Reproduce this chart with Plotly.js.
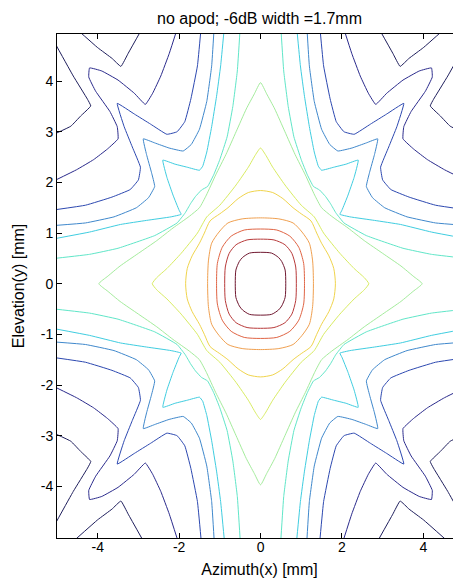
<!DOCTYPE html>
<html><head><meta charset="utf-8">
<script src="https://cdn.plot.ly/plotly-3.0.1.min.js"></script>
<style>html,body{margin:0;padding:0;overflow:hidden;background:#fff;width:453px;height:587px}#chart{width:475px;height:587px}</style>
</head><body><div id="chart"></div>
<script>
// contour levels, outermost (1) to innermost (13); coordinates in mm
const level1_x = [-4.55,-4.0,-3.65,-3.43,-3.25,-2.9,null,-5.05,-4.6,-4.25,-4.17,-4.42,-4.66,-5.05,null,
  4.55,4.0,3.65,3.43,3.25,2.9,null,5.05,4.6,4.25,4.17,4.42,4.66,5.05,null,
  -4.55,-4.0,-3.65,-3.43,-3.25,-2.9,null,-5.05,-4.6,-4.25,-4.17,-4.42,-4.66,-5.05,null,
  4.55,4.0,3.65,3.43,3.25,2.9,null,5.05,4.6,4.25,4.17,4.42,4.66,5.05];
const level1_y = [5.05,4.66,4.45,4.29,4.55,5.05,null,4.75,4.1,3.64,3.51,3.31,3.11,2.96,null,
  5.05,4.66,4.45,4.29,4.55,5.05,null,4.75,4.1,3.64,3.51,3.31,3.11,2.96,null,
  -5.05,-4.66,-4.45,-4.29,-4.55,-5.05,null,-4.75,-4.1,-3.64,-3.51,-3.31,-3.11,-2.96,null,
  -5.05,-4.66,-4.45,-4.29,-4.55,-5.05,null,-4.75,-4.1,-3.64,-3.51,-3.31,-3.11,-2.96];

const level2_x = [-2.04,-2.24,-2.45,-2.65,-2.83,-3.1,-3.5,-3.9,-4.2,-4.22,-4.05,-3.7,-3.52,-3.5,-3.76,-4.1,-4.52,-5.05,null,
  2.04,2.24,2.45,2.65,2.83,3.1,3.5,3.9,4.2,4.22,4.05,3.7,3.52,3.5,3.76,4.1,4.52,5.05,null,
  -2.04,-2.24,-2.45,-2.65,-2.83,-3.1,-3.5,-3.9,-4.2,-4.22,-4.05,-3.7,-3.52,-3.5,-3.76,-4.1,-4.52,-5.05,null,
  2.04,2.24,2.45,2.65,2.83,3.1,3.5,3.9,4.2,4.22,4.05,3.7,3.52,3.5,3.76,4.1,4.52,5.05];
const level2_y = [5.05,4.55,4.1,3.76,3.54,3.76,4.02,4.2,4.26,4.08,3.8,3.4,3.1,2.86,2.66,2.45,2.25,2.04,null,
  5.05,4.55,4.1,3.76,3.54,3.76,4.02,4.2,4.26,4.08,3.8,3.4,3.1,2.86,2.66,2.45,2.25,2.04,null,
  -5.05,-4.55,-4.1,-3.76,-3.54,-3.76,-4.02,-4.2,-4.26,-4.08,-3.8,-3.4,-3.1,-2.86,-2.66,-2.45,-2.25,-2.04,null,
  -5.05,-4.55,-4.1,-3.76,-3.54,-3.76,-4.02,-4.2,-4.26,-4.08,-3.8,-3.4,-3.1,-2.86,-2.66,-2.45,-2.25,-2.04];

const level3_x = [-1.46,-1.55,-1.71,-1.86,-2.05,-2.3,-2.7,-3.1,-3.52,-3.35,-3.15,-2.95,-3.0,-3.2,-3.65,-4.3,-5.05,null,
  1.46,1.55,1.71,1.86,2.05,2.3,2.7,3.1,3.52,3.35,3.15,2.95,3.0,3.2,3.65,4.3,5.05,null,
  -1.46,-1.55,-1.71,-1.86,-2.05,-2.3,-2.7,-3.1,-3.52,-3.35,-3.15,-2.95,-3.0,-3.2,-3.65,-4.3,-5.05,null,
  1.46,1.55,1.71,1.86,2.05,2.3,2.7,3.1,3.52,3.35,3.15,2.95,3.0,3.2,3.65,4.3,5.05];
const level3_y = [5.05,4.3,3.65,3.2,3.0,2.95,3.15,3.35,3.56,3.1,2.7,2.3,2.05,1.86,1.71,1.55,1.46,null,
  5.05,4.3,3.65,3.2,3.0,2.95,3.15,3.35,3.56,3.1,2.7,2.3,2.05,1.86,1.71,1.55,1.46,null,
  -5.05,-4.3,-3.65,-3.2,-3.0,-2.95,-3.15,-3.35,-3.56,-3.1,-2.7,-2.3,-2.05,-1.86,-1.71,-1.55,-1.46,null,
  -5.05,-4.3,-3.65,-3.2,-3.0,-2.95,-3.15,-3.35,-3.56,-3.1,-2.7,-2.3,-2.05,-1.86,-1.71,-1.55,-1.46];

const level4_x = [-1.14,-1.2,-1.32,-1.5,-1.7,-1.9,-2.25,-2.6,-2.88,-2.8,-2.68,-2.6,-2.75,-3.05,-3.6,-4.3,-5.05,null,
  1.14,1.2,1.32,1.5,1.7,1.9,2.25,2.6,2.88,2.8,2.68,2.6,2.75,3.05,3.6,4.3,5.05,null,
  -1.14,-1.2,-1.32,-1.5,-1.7,-1.9,-2.25,-2.6,-2.88,-2.8,-2.68,-2.6,-2.75,-3.05,-3.6,-4.3,-5.05,null,
  1.14,1.2,1.32,1.5,1.7,1.9,2.25,2.6,2.88,2.8,2.68,2.6,2.75,3.05,3.6,4.3,5.05];
const level4_y = [5.05,4.3,3.6,3.05,2.75,2.62,2.68,2.78,2.86,2.55,2.2,1.92,1.7,1.5,1.32,1.2,1.15,null,
  5.05,4.3,3.6,3.05,2.75,2.62,2.68,2.78,2.86,2.55,2.2,1.92,1.7,1.5,1.32,1.2,1.15,null,
  -5.05,-4.3,-3.6,-3.05,-2.75,-2.62,-2.68,-2.78,-2.86,-2.55,-2.2,-1.92,-1.7,-1.5,-1.32,-1.2,-1.15,null,
  -5.05,-4.3,-3.6,-3.05,-2.75,-2.62,-2.68,-2.78,-2.86,-2.55,-2.2,-1.92,-1.7,-1.5,-1.32,-1.2,-1.15];

const level5_x = [-0.89,-0.98,-1.08,-1.2,-1.32,-1.42,-1.5,-1.8,-2.1,-2.4,-2.3,-2.15,-2.0,-1.95,-2.2,-2.8,-3.44,-4.2,-5.05,null,
  0.89,0.98,1.08,1.2,1.32,1.42,1.5,1.8,2.1,2.4,2.3,2.15,2.0,1.95,2.2,2.8,3.44,4.2,5.05,null,
  -0.89,-0.98,-1.08,-1.2,-1.32,-1.42,-1.5,-1.8,-2.1,-2.4,-2.3,-2.15,-2.0,-1.95,-2.2,-2.8,-3.44,-4.2,-5.05,null,
  0.89,0.98,1.08,1.2,1.32,1.42,1.5,1.8,2.1,2.4,2.3,2.15,2.0,1.95,2.2,2.8,3.44,4.2,5.05];
const level5_y = [5.05,4.3,3.7,3.1,2.6,2.32,2.24,2.3,2.36,2.44,2.1,1.75,1.45,1.37,1.32,1.25,1.17,1.02,0.89,null,
  5.05,4.3,3.7,3.1,2.6,2.32,2.24,2.3,2.36,2.44,2.1,1.75,1.45,1.37,1.32,1.25,1.17,1.02,0.89,null,
  -5.05,-4.3,-3.7,-3.1,-2.6,-2.32,-2.24,-2.3,-2.36,-2.44,-2.1,-1.75,-1.45,-1.37,-1.32,-1.25,-1.17,-1.02,-0.89,null,
  -5.05,-4.3,-3.7,-3.1,-2.6,-2.32,-2.24,-2.3,-2.36,-2.44,-2.1,-1.75,-1.45,-1.37,-1.32,-1.25,-1.17,-1.02,-0.89];

const level6_x = [-0.5,-0.57,-0.68,-0.82,-1.0,-1.15,-1.3,-1.45,-1.6,-1.72,-1.85,-2.05,-2.6,-3.5,-4.2,-5.05,null,
  0.5,0.57,0.68,0.82,1.0,1.15,1.3,1.45,1.6,1.72,1.85,2.05,2.6,3.5,4.2,5.05,null,
  -0.5,-0.57,-0.68,-0.82,-1.0,-1.15,-1.3,-1.45,-1.6,-1.72,-1.85,-2.05,-2.6,-3.5,-4.2,-5.05,null,
  0.5,0.57,0.68,0.82,1.0,1.15,1.3,1.45,1.6,1.72,1.85,2.05,2.6,3.5,4.2,5.05];
const level6_y = [5.05,4.2,3.5,2.9,2.45,2.15,1.92,1.85,1.72,1.58,1.4,1.2,0.95,0.7,0.58,0.5,null,
  5.05,4.2,3.5,2.9,2.45,2.15,1.92,1.85,1.72,1.58,1.4,1.2,0.95,0.7,0.58,0.5,null,
  -5.05,-4.2,-3.5,-2.9,-2.45,-2.15,-1.92,-1.85,-1.72,-1.58,-1.4,-1.2,-0.95,-0.7,-0.58,-0.5,null,
  -5.05,-4.2,-3.5,-2.9,-2.45,-2.15,-1.92,-1.85,-1.72,-1.58,-1.4,-1.2,-0.95,-0.7,-0.58,-0.5];

const level7_x = [0,0.15,0.35,0.6,0.85,1.1,1.33,1.5,1.75,2.15,2.55,3.0,3.45,3.75,3.97,3.75,3.45,3.0,2.55,2.15,1.75,1.5,1.33,1.1,0.85,0.6,0.35,0.15,0,
  -0.15,-0.35,-0.6,-0.85,-1.1,-1.33,-1.5,-1.75,-2.15,-2.55,-3.0,-3.45,-3.75,-3.97,-3.75,-3.45,-3.0,-2.55,-2.15,-1.75,-1.5,-1.33,-1.1,-0.85,-0.6,-0.35,-0.15,0];
const level7_y = [3.97,3.75,3.45,3.0,2.55,2.15,1.75,1.5,1.33,1.1,0.85,0.6,0.35,0.15,0,-0.15,-0.35,-0.6,-0.85,-1.1,-1.33,-1.5,-1.75,-2.15,-2.55,-3.0,-3.45,-3.75,-3.97,
  -3.75,-3.45,-3.0,-2.55,-2.15,-1.75,-1.5,-1.33,-1.1,-0.85,-0.6,-0.35,-0.15,0,0.15,0.35,0.6,0.85,1.1,1.33,1.5,1.75,2.15,2.55,3.0,3.45,3.75,3.97];

const level8_x = [0,0.12,0.3,0.6,1.0,1.32,1.55,1.95,2.3,2.55,2.66,2.55,2.3,1.95,1.55,1.32,1.0,0.6,0.3,0.12,0,
  -0.12,-0.3,-0.6,-1.0,-1.32,-1.55,-1.95,-2.3,-2.55,-2.66,-2.55,-2.3,-1.95,-1.55,-1.32,-1.0,-0.6,-0.3,-0.12,0];
const level8_y = [2.68,2.55,2.3,1.95,1.55,1.32,1.0,0.6,0.3,0.12,0,-0.12,-0.3,-0.6,-1.0,-1.32,-1.55,-1.95,-2.3,-2.55,-2.68,
  -2.55,-2.3,-1.95,-1.55,-1.32,-1.0,-0.6,-0.3,-0.12,0,0.12,0.3,0.6,1.0,1.32,1.55,1.95,2.3,2.55,2.68];

const level9_x = [0,0.3,0.55,0.8,1.0,1.24,1.38,1.5,1.68,1.8,1.84,1.8,1.68,1.5,1.38,1.24,1.0,0.8,0.55,0.3,0,
  -0.3,-0.55,-0.8,-1.0,-1.24,-1.38,-1.5,-1.68,-1.8,-1.84,-1.8,-1.68,-1.5,-1.38,-1.24,-1.0,-0.8,-0.55,-0.3,0];
const level9_y = [1.84,1.8,1.68,1.5,1.38,1.24,1.0,0.8,0.55,0.3,0,-0.3,-0.55,-0.8,-1.0,-1.24,-1.38,-1.5,-1.68,-1.8,-1.84,
  -1.8,-1.68,-1.5,-1.38,-1.24,-1.0,-0.8,-0.55,-0.3,0,0.3,0.55,0.8,1.0,1.24,1.38,1.5,1.68,1.8,1.84];

const level10_x = [0,0.45,0.8,1.02,1.2,1.28,1.3,1.28,1.2,1.02,0.8,0.45,0,-0.45,-0.8,-1.02,-1.2,-1.28,-1.3,-1.28,-1.2,-1.02,-0.8,-0.45,0];
const level10_y = [1.3,1.28,1.2,1.02,0.8,0.45,0,-0.45,-0.8,-1.02,-1.2,-1.28,-1.3,-1.28,-1.2,-1.02,-0.8,-0.45,0,0.45,0.8,1.02,1.2,1.28,1.3];

const level11_x = [0,0.4,0.72,0.94,1.06,1.08,1.06,0.94,0.72,0.4,0,-0.4,-0.72,-0.94,-1.06,-1.08,-1.06,-0.94,-0.72,-0.4,0];
const level11_y = [1.08,1.06,0.94,0.72,0.4,0,-0.4,-0.72,-0.94,-1.06,-1.08,-1.06,-0.94,-0.72,-0.4,0,0.4,0.72,0.94,1.06,1.08];

const level12_x = [0,0.33,0.6,0.77,0.865,0.88,0.865,0.77,0.6,0.33,0,-0.33,-0.6,-0.77,-0.865,-0.88,-0.865,-0.77,-0.6,-0.33,0];
const level12_y = [0.88,0.865,0.77,0.6,0.33,0,-0.33,-0.6,-0.77,-0.865,-0.88,-0.865,-0.77,-0.6,-0.33,0,0.33,0.6,0.77,0.865,0.88];

const level13_x = [0,0.27,0.44,0.52,0.605,0.62,0.605,0.52,0.44,0.27,0,-0.27,-0.44,-0.52,-0.605,-0.62,-0.605,-0.52,-0.44,-0.27,0];
const level13_y = [0.62,0.605,0.52,0.44,0.27,0,-0.27,-0.44,-0.52,-0.605,-0.62,-0.605,-0.52,-0.44,-0.27,0,0.27,0.44,0.52,0.605,0.62];

const levelColors = ['#1e1e5c','#2a2a8c','#2c48b0','#3f88cc','#3fcde0','#60e6c8','#a4ec9c','#d8ec60','#f0d44c','#f0a050','#e06444','#b83a3a','#701830'];
const xTicks = [-4,-2,0,2,4];
const yTicks = [-4,-3,-2,-1,0,1,2,3,4];

const levelsX = [level1_x,level2_x,level3_x,level4_x,level5_x,level6_x,level7_x,level8_x,level9_x,level10_x,level11_x,level12_x,level13_x];
const levelsY = [level1_y,level2_y,level3_y,level4_y,level5_y,level6_y,level7_y,level8_y,level9_y,level10_y,level11_y,level12_y,level13_y];

const traces = levelsX.map((xs, i) => ({
  type: 'scatter', mode: 'lines', x: xs, y: levelsY[i], connectgaps: false,
  line: {color: levelColors[i], width: 1, shape: 'spline', smoothing: i >= 8 ? 0.7 : (i >= 6 ? 0.5 : 0.3)},
  hoverinfo: 'skip', showlegend: false
}));

const font = 'Liberation Sans, Arial, Helvetica, sans-serif';
const layout = {
  width: 475, height: 587,
  margin: {l: 57, r: 13, t: 34, b: 49},
  paper_bgcolor: '#fff', plot_bgcolor: '#fff',
  font: {family: font, color: '#000', size: 14},
  title: {text: 'no apod; -6dB width =1.7mm', font: {family: font, size: 16, color: '#000'},
          x: 0.5, xref: 'paper', xanchor: 'center', y: 1 - 18.5/587, yref: 'container', yanchor: 'middle'},
  xaxis: {range: [-5, 4.95], tickvals: xTicks, ticktext: xTicks.map(String), ticks: 'inside', ticklen: 5,
          tickcolor: '#000', showline: true, linecolor: '#000', linewidth: 1, mirror: 'ticks',
          showgrid: false, zeroline: false, tickfont: {size: 14}, ticklabelstandoff: -4,
          title: {text: 'Azimuth(x) [mm]', font: {size: 16}, standoff: 10}},
  yaxis: {range: [-5.02, 4.93], tickvals: yTicks, ticktext: yTicks.map(String), ticks: 'inside', ticklen: 5,
          tickcolor: '#000', showline: true, linecolor: '#000', linewidth: 1, mirror: 'ticks',
          showgrid: false, zeroline: false, tickfont: {size: 14},
          title: {text: 'Elevation(y) [mm]', font: {size: 16}, standoff: 12}}
};
Plotly.newPlot('chart', traces, layout, {staticPlot: true, displayModeBar: false});
</script></body></html>
